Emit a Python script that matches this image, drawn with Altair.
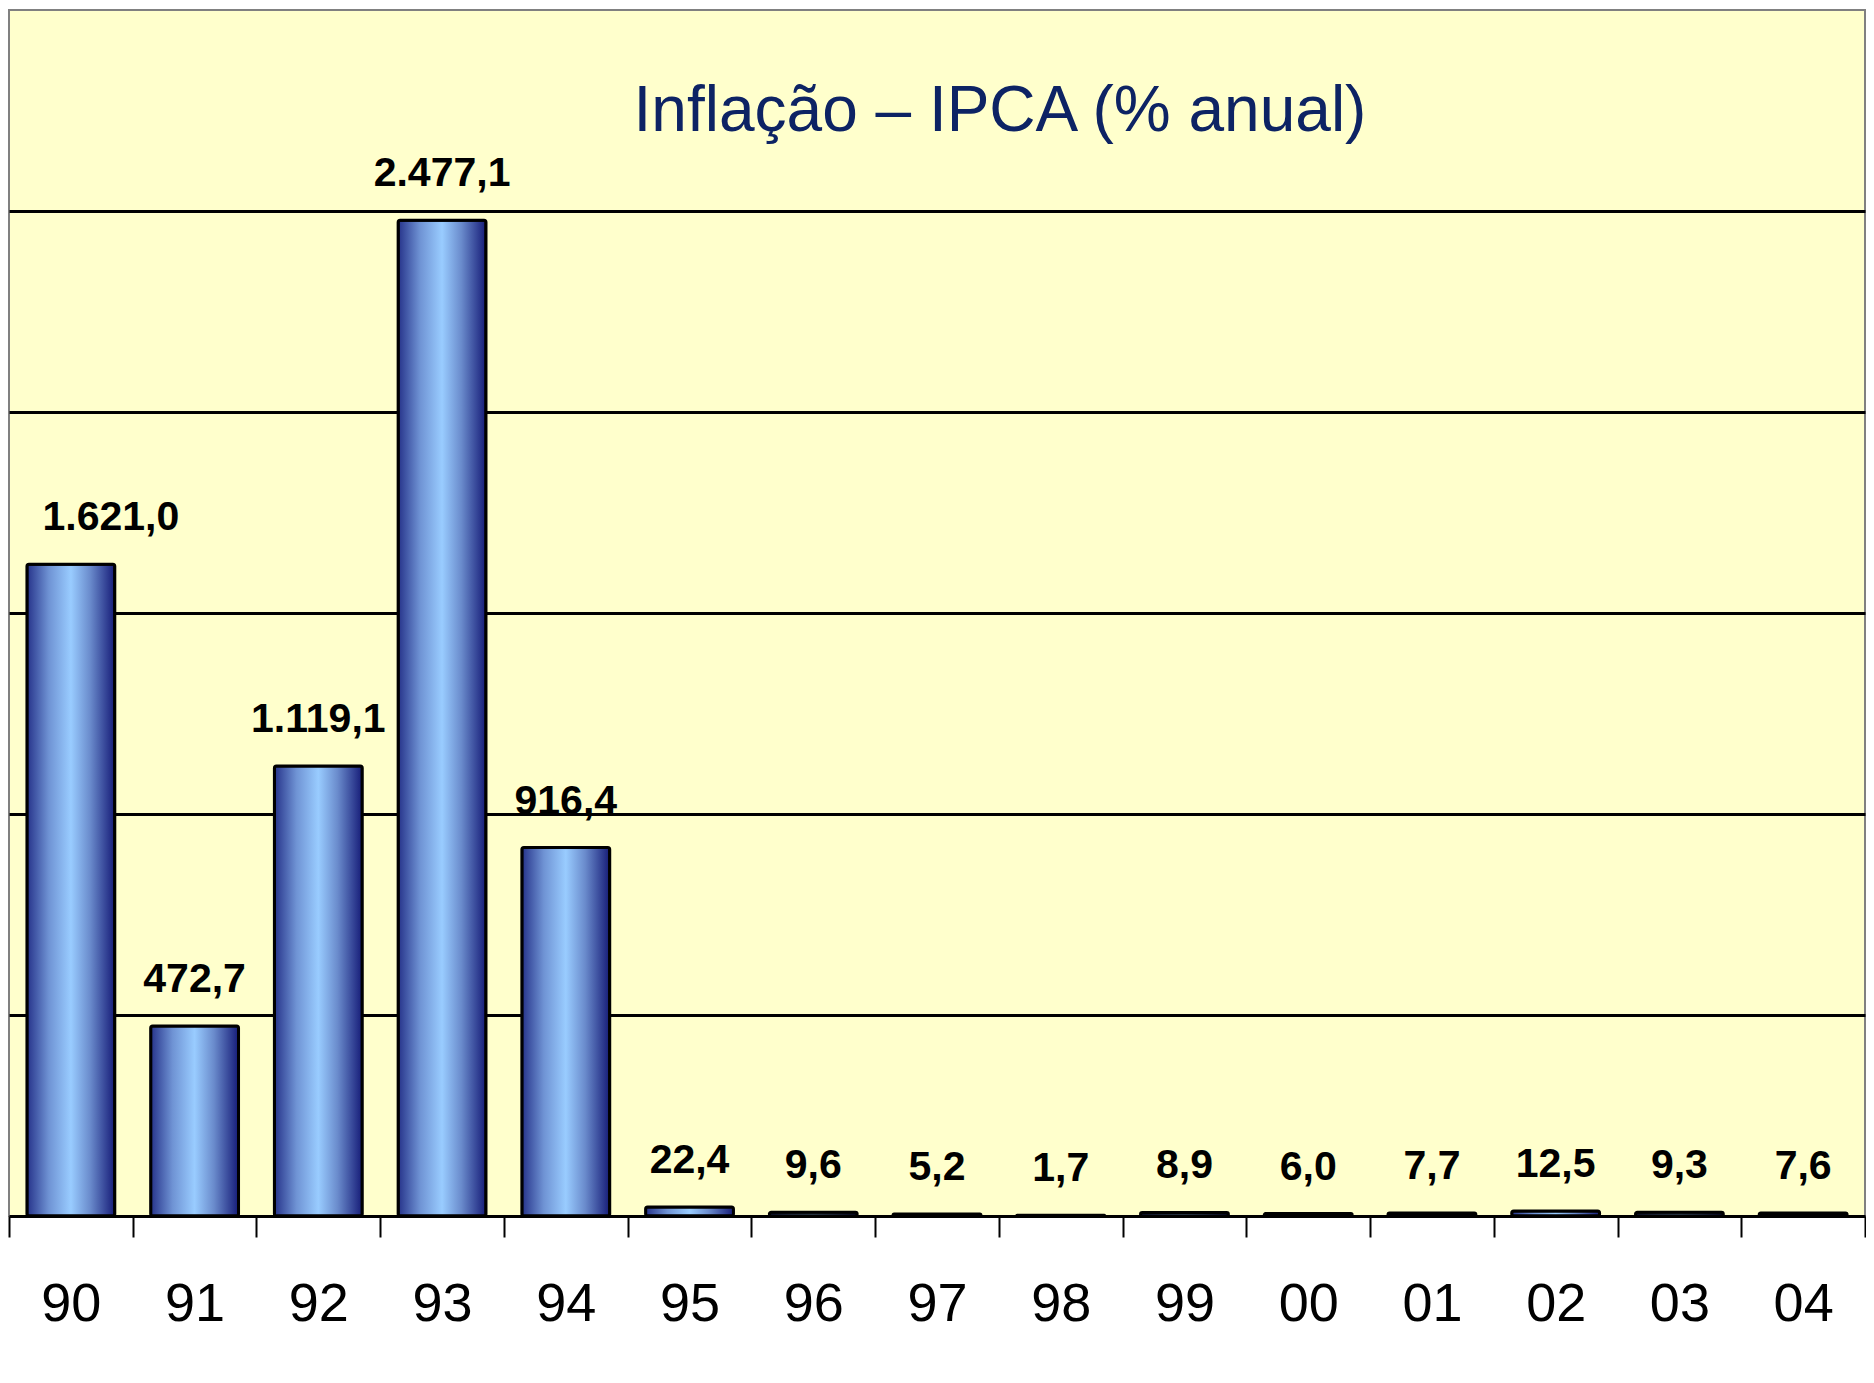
import altair as alt
import pandas as pd

years = ["90", "91", "92", "93", "94", "95", "96", "97", "98", "99", "00", "01", "02", "03", "04"]
ipca = [1621.0, 472.7, 1119.1, 2477.1, 916.4, 22.4, 9.6, 5.2, 1.7, 8.9, 6.0, 7.7, 12.5, 9.3, 7.6]
grid_values = [500, 1000, 1500, 2000, 2500]


def br(v):
    return f"{v:,.1f}".replace(",", "X").replace(".", ",").replace("X", ".")


df = pd.DataFrame({"ano": years, "ipca": ipca, "label": [br(v) for v in ipca]})

W = 1856
H = 1206

grad = alt.LinearGradient(
    gradient="linear",
    x1=0, x2=1, y1=0, y2=0,
    stops=[
        alt.GradientStop(color="#26338a", offset=0),
        alt.GradientStop(color="#6f93d4", offset=0.25),
        alt.GradientStop(color="#99ccff", offset=0.5),
        alt.GradientStop(color="#6a8bcc", offset=0.72),
        alt.GradientStop(color="#161c78", offset=1),
    ],
)

x = alt.X(
    "ano:N",
    sort=years,
    title=None,
    scale=alt.Scale(paddingInner=0, paddingOuter=0),
    axis=alt.Axis(
        labelAngle=0,
        labelFont="Liberation Sans Narrow, Arial Narrow, Liberation Sans, Arial, sans-serif",
        labelFontSize=54,
        labelColor="black",
        labelPadding=40,
        tickBand="extent",
        tickSize=21,
        tickWidth=2,
        tickColor="black",
        domainColor="black",
        domainWidth=3,
    ),
)
y = alt.Y(
    "ipca:Q",
    title=None,
    scale=alt.Scale(domain=[0, 3000], nice=False),
    axis=alt.Axis(
        values=grid_values,
        labels=False,
        ticks=False,
        domain=False,
        grid=True,
        gridColor="black",
        gridWidth=3,
        gridOpacity=1,
    ),
)

bars = alt.Chart(df).mark_bar(
    color=grad, stroke="black", strokeWidth=3, cornerRadius=2,
    width=alt.RelativeBandSize(0.71),
).encode(x=x, y=y)

label_style = dict(
    font="Liberation Sans, Arial, sans-serif",
    fontWeight="bold",
    fontSize=41,
    color="black",
    baseline="alphabetic",
    dy=-34,
)

labels = alt.Chart(df).transform_filter(alt.datum.ano != "90").mark_text(
    **label_style
).encode(x=alt.X("ano:N", sort=years), y=alt.Y("ipca:Q"), text="label:N")

first_label = alt.Chart(df).transform_filter(alt.datum.ano == "90").mark_text(
    dx=40, **label_style
).encode(x=alt.X("ano:N", sort=years), y=alt.Y("ipca:Q"), text="label:N")

chart = (
    alt.layer(bars, labels, first_label)
    .properties(
        width=W,
        height=H,
        background="white",
        padding={"left": 1, "top": 2, "right": 1, "bottom": 140},
        autosize=alt.AutoSizeParams(type="none"),
        title=alt.TitleParams(
            text="Inflação – IPCA (% anual)",
            font="Liberation Sans",
            fontSize=64,
            fontWeight="normal",
            color="#0d2364",
            anchor="middle",
            frame="group",
            baseline="alphabetic",
            dx=63,
            dy=64,
            offset=-121,
        ),
    )
    .configure_view(fill="#ffffcc", stroke="#808080", strokeWidth=2)
)

chart.save("out.html", embed_options={"renderer": "svg", "actions": False})
